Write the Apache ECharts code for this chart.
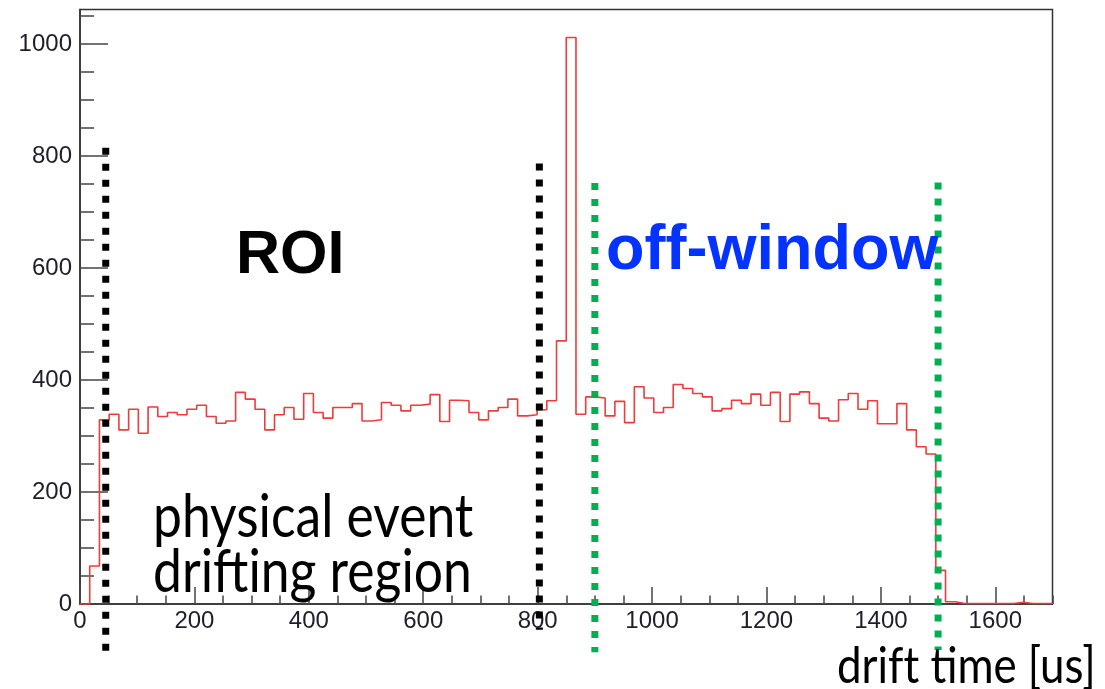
<!DOCTYPE html>
<html>
<head>
<meta charset="utf-8">
<script src="https://cdn.jsdelivr.net/npm/echarts@6/dist/echarts.min.js"></script>
<style>
  html, body { margin: 0; padding: 0; background: #ffffff; }
  #chart { width: 1105px; height: 689px; }
</style>
</head>
<body>
<div id="chart"></div>
<script>
// Histogram of drift times: 100 bins of 17 us between 0 and 1700 us
const X_MIN = 0;
const X_MAX = 1700;
const BIN_WIDTH = 17;
const Y_MAX = 1062;

const counts = [
  0, 68, 329, 339, 311, 348, 305, 352, 335, 342,
  338, 348, 355, 335, 323, 327, 378, 366, 348, 311,
  338, 351, 330, 376, 342, 332, 351, 351, 358, 327,
  329, 360, 355, 345, 355, 357, 374, 326, 364, 363,
  342, 329, 345, 351, 366, 336, 338, 347, 363, 470,
  1012, 339, 370, 368, 336, 362, 324, 388, 368, 342,
  351, 392, 385, 376, 370, 345, 349, 364, 358, 375,
  355, 378, 326, 375, 379, 358, 332, 327, 365, 376,
  348, 363, 322, 322, 358, 311, 281, 268, 60, 4,
  1, 1, 1, 1, 1, 1, 3, 1, 1, 1
];

// Tick positions (us / counts)
const xMajorTicks = [0, 200, 400, 600, 800, 1000, 1200, 1400, 1600];
const xMinorTicks = [0, 50, 100, 150, 200, 250, 300, 350, 400, 450, 500, 550, 600, 650, 700, 750, 800, 850,
  900, 950, 1000, 1050, 1100, 1150, 1200, 1250, 1300, 1350, 1400, 1450, 1500, 1550, 1600, 1650, 1700];
const yMajorTicks = [0, 200, 400, 600, 800, 1000];
const yMinorTicks = [0, 50, 100, 150, 200, 250, 300, 350, 400, 450, 500, 550, 600, 650, 700, 750, 800, 850,
  900, 950, 1000, 1050];

// Region boundaries (us)
const roiBounds = [45, 803];
const offWindowBounds = [900, 1500];

const xAxisTitle = 'drift time [us]';

// Step outline: each bin drawn from its lower edge at its count
const histPoints = counts.map((v, i) => [X_MIN + i * BIN_WIDTH, v]);
histPoints.push([X_MAX, counts[counts.length - 1]]);

const chart = echarts.init(document.getElementById('chart'), null, { renderer: 'canvas' });

const axisColor = '#333333';
const labelFont = '"Liberation Sans", Arial, sans-serif';
const plainNumber = (v) => String(Math.round(v));

// Dotted boundary lines, vertical extent given in count units (reaching below the axis)
function cutSeries(xs, yTop, yBottom, color) {
  return {
    type: 'custom',
    clip: false,
    z: 6,
    xAxisIndex: 0,
    yAxisIndex: 0,
    silent: true,
    data: xs.map((x, i) => [x, yTop[i], yBottom[i]]),
    renderItem: function (params, api) {
      const p1 = api.coord([api.value(0), api.value(1)]);
      const p2 = api.coord([api.value(0), api.value(2)]);
      return {
        type: 'line',
        shape: { x1: p1[0], y1: p1[1], x2: p2[0], y2: p2[1] },
        style: { stroke: color, lineWidth: 7, lineDash: [7, 9], lineCap: 'butt' }
      };
    }
  };
}

// Narrow humanist text for the annotations
function noteText(text, x, y, size) {
  return {
    type: 'text', x: x, y: y, z: 10, scaleX: 0.86, scaleY: 1,
    style: { text: text, font: size + 'px Lato, sans-serif', fill: '#000000',
      verticalAlign: 'middle', align: 'left' }
  };
}

const option = {
  backgroundColor: '#ffffff',
  animation: false,
  grid: {
    left: 80, right: 52.5, top: 9.5, bottom: 85,
    show: true, borderColor: axisColor, borderWidth: 1.5, backgroundColor: 'transparent'
  },
  xAxis: [
    {
      type: 'value', min: X_MIN, max: X_MAX, position: 'bottom',
      axisLine: { show: true, lineStyle: { color: axisColor, width: 1.5 } },
      axisTick: { show: true, inside: true, length: 17, customValues: xMajorTicks,
        lineStyle: { color: '#444', width: 1.5 } },
      axisLabel: { show: true, customValues: xMajorTicks, margin: 5, fontSize: 24,
        fontFamily: labelFont, color: '#1e1e2a', formatter: plainNumber },
      splitLine: { show: false }
    },
    {
      type: 'value', min: X_MIN, max: X_MAX, position: 'bottom',
      axisLine: { show: false },
      axisTick: { show: true, inside: true, length: 8.5, customValues: xMinorTicks,
        lineStyle: { color: '#444', width: 1.5 } },
      axisLabel: { show: false },
      splitLine: { show: false }
    }
  ],
  yAxis: [
    {
      type: 'value', min: 0, max: Y_MAX, position: 'left',
      axisLine: { show: true, lineStyle: { color: axisColor, width: 1.5 } },
      axisTick: { show: true, inside: true, length: 28, customValues: yMajorTicks,
        lineStyle: { color: '#444', width: 1.5 } },
      axisLabel: { show: true, customValues: yMajorTicks, margin: 8, fontSize: 24,
        fontFamily: labelFont, color: '#1e1e2a', formatter: plainNumber },
      splitLine: { show: false }
    },
    {
      type: 'value', min: 0, max: Y_MAX, position: 'left',
      axisLine: { show: false },
      axisTick: { show: true, inside: true, length: 14, customValues: yMinorTicks,
        lineStyle: { color: '#444', width: 1.5 } },
      axisLabel: { show: false },
      splitLine: { show: false }
    }
  ],
  series: [
    {
      type: 'line',
      xAxisIndex: 0, yAxisIndex: 0,
      data: histPoints,
      step: 'end',
      showSymbol: false,
      symbol: 'none',
      z: 3,
      lineStyle: { color: '#ee3b3b', width: 1.6 }
    },
    cutSeries(roiBounds, [815, 787], [-91, -46], '#000000'),
    cutSeries(offWindowBounds, [752, 753], [-86, -82], '#00b050')
  ],
  graphic: [
    { type: 'text', x: 236, y: 256, z: 10,
      style: { text: 'ROI', font: 'bold 61px "Liberation Sans", Arial, sans-serif', fill: '#000000',
        verticalAlign: 'middle', align: 'left' } },
    { type: 'text', x: 606, y: 252, z: 10,
      style: { text: 'off-window', font: 'bold 63px "Liberation Sans", Arial, sans-serif', fill: '#0433ff',
        verticalAlign: 'middle', align: 'left' } },
    noteText('physical event', 153, 518, 60),
    noteText('drifting region', 153, 573, 60),
    noteText(xAxisTitle.replace('ft', 'f\u200Ct'), 837, 667, 51)
  ]
};

chart.setOption(option);
</script>
</body>
</html>
